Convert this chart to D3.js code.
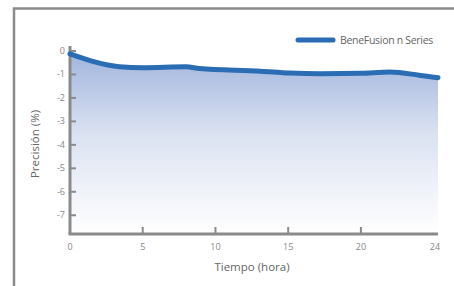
<!DOCTYPE html>
<html>
<head>
<meta charset="utf-8">
<script src="https://cdn.jsdelivr.net/npm/d3@7"></script>
<style>
  body { margin: 0; background: #fff; }
  svg text { font-family: "Open Sans", "Noto Sans", sans-serif; }
</style>
</head>
<body>
<div id="chart"></div>
<script>
// data
var hours     = [0, 3.4, 5, 8, 8.9, 13.1, 15.1, 17.2, 20, 22, 24, 25.3];
var precision = [-0.12, -0.67, -0.71, -0.67, -0.75, -0.86, -0.94, -0.97, -0.95, -0.9, -1.03, -1.14];
var seriesName = "BeneFusion n Series";
var yTicks = [0, -1, -2, -3, -4, -5, -6, -7];
var xTicks = [0, 5, 10, 15, 20, 25.3];
var xTickLabels = ["0", "5", "10", "15", "20", "24"];

var w = 454;
var h = 286;

var svg = d3.select("#chart")
    .append("svg")
    .attr("width", w)
    .attr("height", h);

// outer frame
svg.append("rect")
    .attr("x", 14)
    .attr("y", 8.5)
    .attr("width", 460)
    .attr("height", 300)
    .attr("fill", "none")
    .attr("stroke", "#8c8c8c")
    .attr("stroke-width", 2.5);

var x = d3.scaleLinear().domain([0, 25.3]).range([70, 438]);
var y = d3.scaleLinear().domain([0, -7.8]).range([51, 234]);

var data = hours.map(function(d, i) { return { h: d, v: precision[i] }; });

// gradient fill under the line
var grad = svg.append("defs").append("linearGradient")
    .attr("id", "fillGrad")
    .attr("x1", 0).attr("y1", 0).attr("x2", 0).attr("y2", 1);
grad.append("stop").attr("offset", "0%").attr("stop-color", "#a2b6de");
grad.append("stop").attr("offset", "45%").attr("stop-color", "#dbe2f1");
grad.append("stop").attr("offset", "100%").attr("stop-color", "#ffffff");

var area = d3.area()
    .x(function(d) { return x(d.h); })
    .y0(y(-7.8))
    .y1(function(d) { return y(d.v); })
    .curve(d3.curveMonotoneX);

svg.append("path")
    .datum(data)
    .attr("d", area)
    .attr("fill", "url(#fillGrad)");

// axes
var yAxis = svg.append("g");
yAxis.append("line")
    .attr("x1", 70).attr("x2", 70)
    .attr("y1", y(0) - 5).attr("y2", y(-7.8))
    .attr("stroke", "#8a8a8a")
    .attr("stroke-width", 3);
yAxis.selectAll("line.tick")
    .data(yTicks)
    .enter()
    .append("line")
    .attr("class", "tick")
    .attr("x1", 70).attr("x2", 76)
    .attr("y1", function(d) { return y(d); })
    .attr("y2", function(d) { return y(d); })
    .attr("stroke", "#8a8a8a")
    .attr("stroke-width", 2);
yAxis.selectAll("text")
    .data(yTicks)
    .enter()
    .append("text")
    .text(function(d) { return d; })
    .attr("x", 65)
    .attr("y", function(d) { return y(d) + 3; })
    .attr("text-anchor", "end")
    .attr("font-size", 9)
    .attr("fill", "#888");

var xAxis = svg.append("g");
xAxis.append("line")
    .attr("x1", 68.5).attr("x2", 438)
    .attr("y1", 234).attr("y2", 234)
    .attr("stroke", "#8a8a8a")
    .attr("stroke-width", 3);
xAxis.selectAll("line.tick")
    .data(xTicks.slice(1, 5))
    .enter()
    .append("line")
    .attr("class", "tick")
    .attr("x1", function(d) { return x(d); })
    .attr("x2", function(d) { return x(d); })
    .attr("y1", 234).attr("y2", 227)
    .attr("stroke", "#8a8a8a")
    .attr("stroke-width", 2);
xAxis.selectAll("text")
    .data(xTicks)
    .enter()
    .append("text")
    .text(function(d, i) { return xTickLabels[i]; })
    .attr("x", function(d, i) { return i == xTicks.length - 1 ? x(d) - 3 : x(d); })
    .attr("y", 250)
    .attr("text-anchor", "middle")
    .attr("font-size", 9)
    .attr("fill", "#888");

// the line
var line = d3.line()
    .x(function(d) { return x(d.h); })
    .y(function(d) { return y(d.v); })
    .curve(d3.curveMonotoneX);

svg.append("path")
    .datum(data)
    .attr("d", line)
    .attr("fill", "none")
    .attr("stroke", "#2a6db4")
    .attr("stroke-width", 5)
    .attr("stroke-linecap", "round");

// axis titles
svg.append("text")
    .text("Tiempo (hora)")
    .attr("x", 252)
    .attr("y", 271)
    .attr("text-anchor", "middle")
    .attr("font-size", 11.5)
    .attr("fill", "#666");

svg.append("text")
    .text("Precisión (%)")
    .attr("transform", "translate(39,144) rotate(-90)")
    .attr("text-anchor", "middle")
    .attr("font-size", 11.5)
    .attr("fill", "#666");

// legend
svg.append("line")
    .attr("x1", 298).attr("x2", 333)
    .attr("y1", 40).attr("y2", 40)
    .attr("stroke", "#2a6db4")
    .attr("stroke-width", 5)
    .attr("stroke-linecap", "round");
svg.append("text")
    .text(seriesName)
    .attr("x", 340)
    .attr("y", 44)
    .attr("font-size", 10.5)
    .attr("letter-spacing", -0.3)
    .attr("fill", "#666");
</script>
</body>
</html>
